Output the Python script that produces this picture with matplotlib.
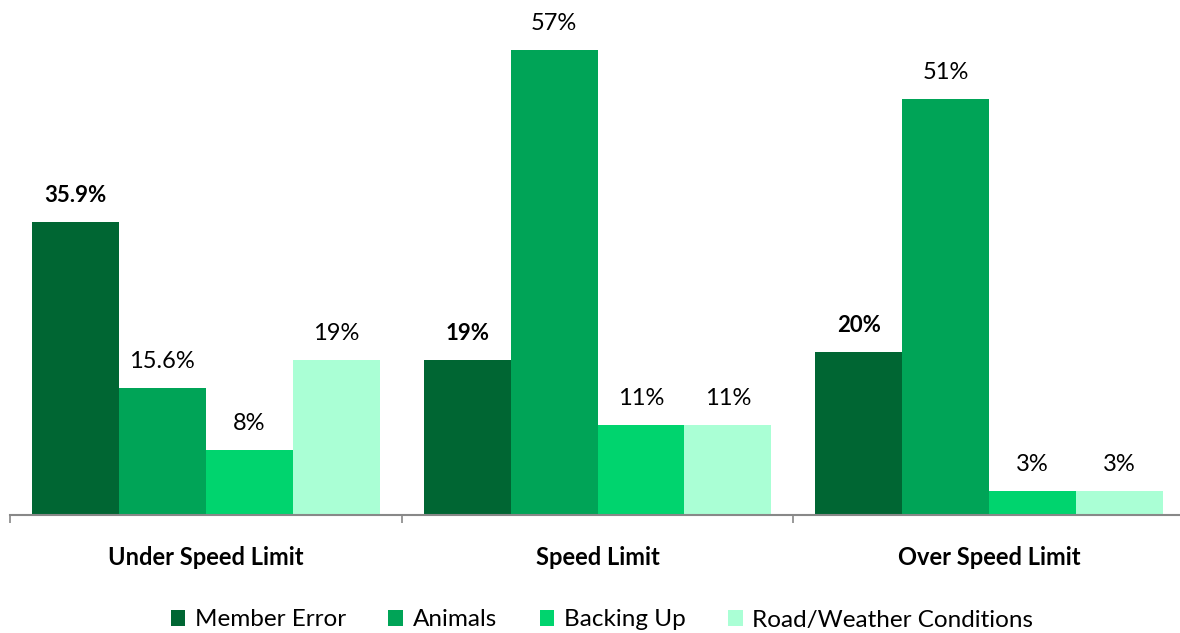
import numpy as np
import matplotlib.pyplot as plt

plt.rcParams['font.family'] = ['Lato', 'DejaVu Sans']

categories = ['Under Speed Limit', 'Speed Limit', 'Over Speed Limit']
series_names = ['Member Error', 'Animals', 'Backing Up', 'Road/Weather Conditions']
member_error = [35.9, 19, 20]
animals = [15.6, 57, 51]
backing_up = [8, 11, 3]
road_weather = [19, 11, 3]
value_labels = [
    ['35.9%', '19%', '20%'],
    ['15.6%', '57%', '51%'],
    ['8%', '11%', '3%'],
    ['19%', '11%', '3%'],
]

colors = ['#006633', '#00A457', '#00D46E', '#AAFFD5']
series = [member_error, animals, backing_up, road_weather]

fig = plt.figure(figsize=(11.8, 6.33), dpi=100)
ax = fig.add_axes([10 / 1180, 118 / 633, 1175 / 1180, 490 / 633])

x = np.arange(len(categories))
w = 0.222
offsets = [-1.5 * w, -0.5 * w, 0.5 * w, 1.5 * w]

for i, (vals, name) in enumerate(zip(series, series_names)):
    bars = ax.bar(x + offsets[i], vals, width=w, color=colors[i], label=name,
                  edgecolor='none')
    weight = 'bold' if i == 0 else 'normal'
    size = 16 if i == 0 else 17
    for b, lab in zip(bars, value_labels[i]):
        ax.annotate(lab, (b.get_x() + b.get_width() / 2, b.get_height()),
                    xytext=(0, 19), textcoords='offset points',
                    ha='center', va='center', fontsize=size, fontweight=weight,
                    color='black')

ax.set_xlim(-0.5, 2.5)
ax.set_ylim(0, 60)

for side in ['top', 'right', 'left']:
    ax.spines[side].set_visible(False)
ax.spines['bottom'].set_color('#888888')
ax.spines['bottom'].set_linewidth(1.5)
ax.set_yticks([])

# tick marks sit between the groups
ax.set_xticks([-0.5, 0.5, 1.5, 2.5])
ax.set_xticklabels([])
ax.tick_params(axis='x', direction='out', length=6, width=1.2, color='#888888')
for xi, cat in zip(x, categories):
    ax.text(xi, -0.087, cat, transform=ax.get_xaxis_transform(),
            ha='center', va='center', fontsize=17, fontweight='bold')

fig.legend(loc='center', bbox_to_anchor=(602 / 1180, 1 - 620 / 633), ncol=4,
           frameon=False, fontsize=17.5, handlelength=0.6, handleheight=0.6,
           handletextpad=0.4, columnspacing=1.75, borderaxespad=0)

fig.savefig('out.png', dpi=100)
